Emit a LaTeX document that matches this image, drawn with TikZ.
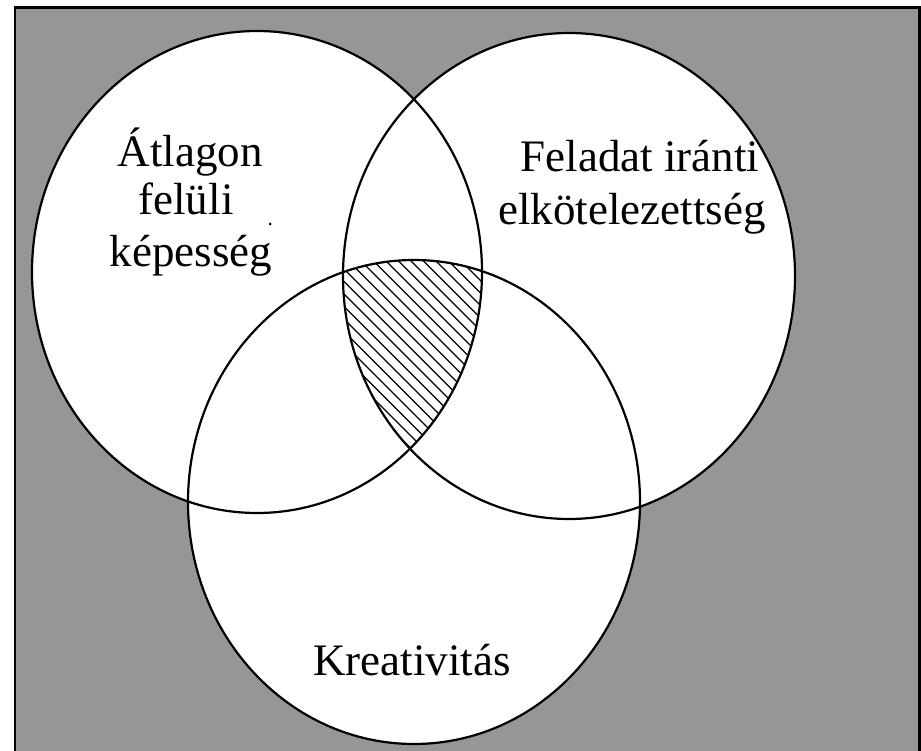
\documentclass[tikz,border=0pt]{standalone}
\usepackage{fontspec}
\setmainfont{Liberation Serif}
\begin{document}
\begin{tikzpicture}[x=1pt,y=-1pt,
  venn/.style={draw=black,line width=2.2pt,fill=white},
  hatchline/.style={draw=black,line width=1.3pt},
  lbl/.style={anchor=base,inner sep=0pt,font=\fontsize{45}{52}\selectfont}]
\useasboundingbox (0,0) rectangle (921,751);
\clip (0,0) rectangle (921,751);
% background frame
\fill[white] (0,0) rectangle (921,751);
\filldraw[fill=black!41,draw=black,line width=2.6pt] (15,7.5) rectangle (919.5,760);
% white discs
\fill[white] (257,272) ellipse [x radius=225, y radius=241];
\fill[white] (569,276) ellipse [x radius=226, y radius=243];
\fill[white] (414,502) ellipse [x radius=226, y radius=242];
% hatching of the common part
\begin{scope}
  \clip (257,272) ellipse [x radius=225, y radius=241];
  \clip (569,276) ellipse [x radius=226, y radius=243];
  \clip (414,502) ellipse [x radius=226, y radius=242];
  \foreach \k in {-20,...,20}
    \draw[hatchline] (400+\k*12.5,200) -- ++(320,320);
\end{scope}
% outlines
\draw[venn,fill=none] (257,272) ellipse [x radius=225, y radius=241];
\draw[venn,fill=none] (569,276) ellipse [x radius=226, y radius=243];
\draw[venn,fill=none] (414,502) ellipse [x radius=226, y radius=242];
% labels
\node[lbl] (a1) at (190,167) {Átlagon};
\node[lbl] (a2) at (186,215) {felüli};
\node[lbl] (a3) at (191,267) {képesség};
\node[lbl] (b1) at (640,172) {Feladat iránti};
\node[lbl] (b2) at (632,225) {elkötelezettség};
\node[lbl] (c1) at (412,675) {Kreativitás};
\fill[black] (270,224) circle (1.5);
\end{tikzpicture}
\end{document}
